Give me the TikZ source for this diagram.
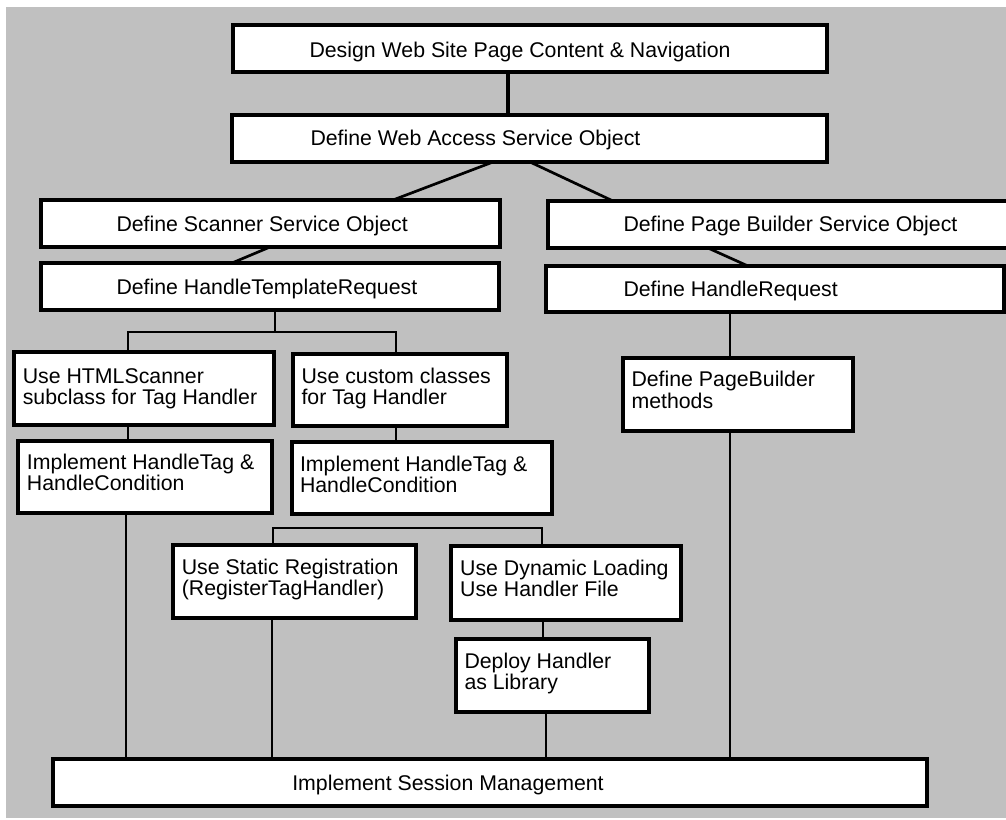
\documentclass[tikz,border=0pt]{standalone}
\usepackage{fontspec}
\setmainfont{Liberation Sans}
\usetikzlibrary{calc}
\definecolor{panel}{RGB}{192,192,192}

% box: name, left, top, right, bottom (in px-like units)
\newcommand\taskbox[5]{%
  \node[stepbox, minimum width={#4pt-#2pt}, minimum height={#5pt-#3pt},
        anchor=north west] (#1) at (#2,#3) {};}
% label: first-line baseline at (x,y), lines separated by \\
\newcommand\tasklabel[3]{%
  \node[lbl, anchor=base west] at (#1,#2) {\begin{tabular}[t]{@{}l@{}}#3\end{tabular}};}

\begin{document}
\begin{tikzpicture}[x=1pt, y=-1pt,
  stepbox/.style={draw=black, fill=white, line width=3.2pt, inner sep=0pt, outer sep=0pt},
  lbl/.style={inner sep=0pt, outer sep=0pt, text=black, font=\fontsize{21.3}{20.8}\selectfont},
  link/.style={draw=black, line width=2.7pt},
  thinlink/.style={draw=black, line width=2pt}]

\useasboundingbox (0,0) rectangle (1006,819);
\fill[panel] (6,7) rectangle (1006,818);

% boxes
\taskbox{design}{233}{25}{827}{72}
\taskbox{web}{232}{115}{827}{162}
\taskbox{scan}{41}{200}{500}{247}
\taskbox{pbso}{548}{201}{1012}{248}
\taskbox{htr}{41}{263}{499}{310}
\taskbox{hr}{546}{266}{1004}{312}
\taskbox{html}{14}{352}{274}{425}
\taskbox{cust}{293}{354}{507}{426}
\taskbox{pbm}{623}{358}{853}{431}
\taskbox{implA}{18}{441}{272}{513}
\taskbox{implB}{292}{442}{552}{514}
\taskbox{static}{173}{545}{416}{618}
\taskbox{dyn}{451}{546}{681}{620}
\taskbox{deploy}{456}{639}{649}{712}
\taskbox{sess}{53}{759}{927}{806}

% labels
\tasklabel{309.5}{57}{Design Web Site Page Content \& Navigation}
\tasklabel{310.5}{145}{Define Web Access Service Object}
\tasklabel{116.5}{231}{Define Scanner Service Object}
\tasklabel{116.5}{294}{Define HandleTemplateRequest}
\tasklabel{623.5}{231.7}{Define Page Builder Service Object}
\tasklabel{623.5}{296.7}{Define HandleRequest}
\tasklabel{22.8}{383.3}{Use HTMLScanner\\subclass for Tag Handler}
\tasklabel{301.5}{383}{Use custom classes\\for Tag Handler}
\tasklabel{631.5}{386.7}{Define PageBuilder\\methods}
\tasklabel{27}{469.3}{Implement HandleTag \&\\HandleCondition}
\tasklabel{300}{471}{Implement HandleTag \&\\HandleCondition}
\tasklabel{181.8}{574}{Use Static Registration\\(RegisterTagHandler)}
\tasklabel{460.2}{575}{Use Dynamic Loading\\Use Handler File}
\tasklabel{464.5}{668}{Deploy Handler\\as Library}
\tasklabel{292.3}{790}{Implement Session Management}

% x positions of connector ends
\coordinate (xDW) at (508,0);
\coordinate (xWS) at (493,0);
\coordinate (xSW) at (393,0);
\coordinate (xWP) at (530,0);
\coordinate (xPW) at (613,0);
\coordinate (xSH) at (270,0);
\coordinate (xHS) at (232,0);
\coordinate (xPH) at (708,0);
\coordinate (xHP) at (748,0);
\coordinate (xT) at (275,0);
\coordinate (xL) at (128,0);
\coordinate (xR) at (396,0);
\coordinate (xSt) at (273,0);
\coordinate (xDy) at (542,0);
\coordinate (xDD) at (543,0);
\coordinate (xM) at (730,0);
\coordinate (xIA) at (126,0);
\coordinate (xSS) at (272,0);
\coordinate (xDS) at (546,0);

% connectors
\draw[link, line width=3.2pt] (design.south -| xDW) -- (web.north -| xDW);
\draw[link] (web.south -| xWS) -- (scan.north -| xSW);
\draw[link] (web.south -| xWP) -- (pbso.north -| xPW);
\draw[link] (scan.south -| xSH) -- (htr.north -| xHS);
\draw[link] (pbso.south -| xPH) -- (hr.north -| xHP);
\draw[link] (htr.south -| xT) -- ++(0,22) coordinate (fork);
\draw[link] (html.north -| xL) |- (fork) -| (cust.north -| xR);
\draw[link] (html.south -| xL) -- (implA.north -| xL);
\draw[link] (cust.south -| xR) -- (implB.north -| xR);
\draw[link] (static.north -| xSt) -- ++(0,-17) -| (dyn.north -| xDy);
\draw[link] (dyn.south -| xDD) -- (deploy.north -| xDD);
\draw[thinlink] (hr.south -| xM) -- (pbm.north -| xM);
\draw[thinlink] (pbm.south -| xM) -- (sess.north -| xM);
\draw[thinlink] (implA.south -| xIA) -- (sess.north -| xIA);
\draw[thinlink] (static.south -| xSS) -- (sess.north -| xSS);
\draw[link] (deploy.south -| xDS) -- (sess.north -| xDS);

\end{tikzpicture}
\end{document}
